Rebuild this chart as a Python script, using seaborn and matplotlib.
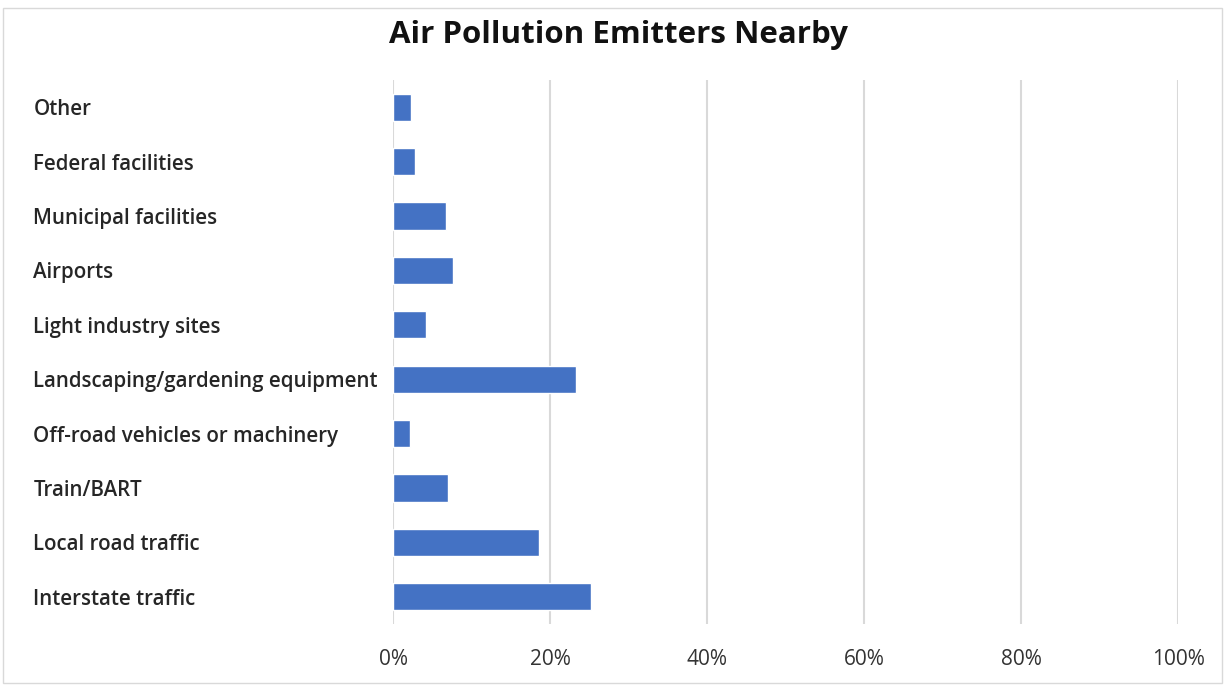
import matplotlib
matplotlib.use("Agg")
import matplotlib.pyplot as plt
import seaborn as sns
import pandas as pd
from matplotlib.ticker import FuncFormatter
from matplotlib.patches import Rectangle

categories = ["Other", "Federal facilities", "Municipal facilities", "Airports",
              "Light industry sites", "Landscaping/gardening equipment",
              "Off-road vehicles or machinery", "Train/BART", "Local road traffic",
              "Interstate traffic"]
values = [2.3, 2.75, 6.7, 7.7, 4.2, 23.3, 2.2, 7.0, 18.6, 25.2]
xticks = [0, 20, 40, 60, 80, 100]

sns.set_theme(style="white")
plt.rcParams['font.family'] = ['Open Sans', 'DejaVu Sans']

df = pd.DataFrame({"category": categories, "value": values})

fig = plt.figure(figsize=(12.25, 6.86), dpi=100)
ax = fig.add_axes([393/1225, 1-624/686, (1178-393)/1225, (624-80)/686])

sns.barplot(data=df, y="category", x="value", order=categories, orient="h",
            color="#4472C4", width=0.5, saturation=1, ax=ax, zorder=3)

ax.set_xlim(0, 100)
ax.set_xticks(xticks)
ax.xaxis.set_major_formatter(FuncFormatter(lambda v, p: f"{int(v)}%"))
ax.grid(axis="x", color="#d9d9d9", linewidth=1.5, zorder=0)
ax.set_axisbelow(True)
for s in ax.spines.values():
    s.set_visible(False)
ax.set_xlabel("")
ax.set_ylabel("")
ax.tick_params(axis="x", length=0, pad=18, labelsize=15, labelcolor="#333333")
ax.tick_params(axis="y", length=0, pad=259, labelsize=14.8, labelcolor="#262626")
for lab in ax.get_yticklabels():
    lab.set_horizontalalignment("left")
    lab.set_fontweight(600)
for lab in ax.get_xticklabels():
    lab.set_fontweight(500)

fig.text(618/1225, 1-35/686, "Air Pollution Emitters Nearby", ha="center", va="center",
         fontsize=22.5, fontweight="bold", color="#111111")

fig.patches.append(Rectangle((3/1225, 0.005), 1-6/1225, 1-8/686-0.005,
                             transform=fig.transFigure, fill=False,
                             edgecolor="#d9d9d9", linewidth=1))

fig.savefig("out.png", dpi=100, facecolor="white")
